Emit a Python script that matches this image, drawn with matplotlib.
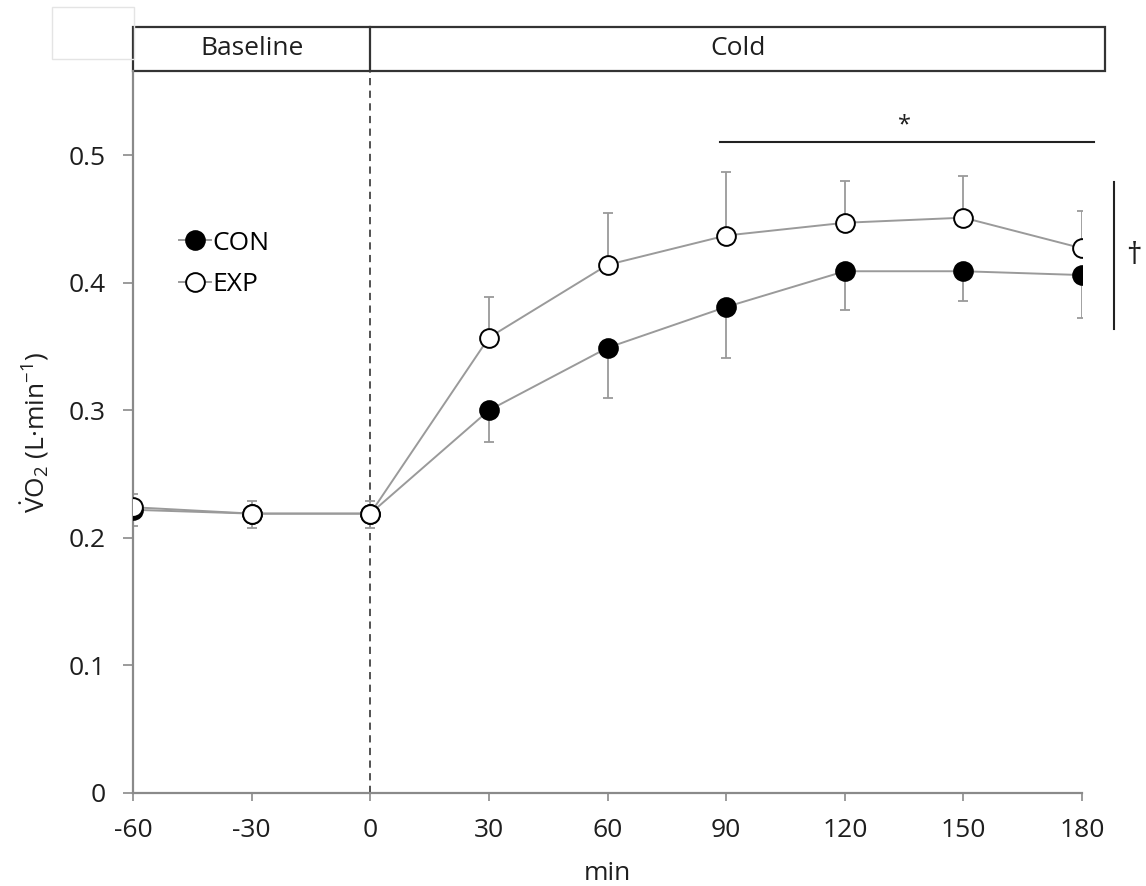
import numpy as np
import matplotlib.pyplot as plt
from matplotlib.patches import Rectangle

# time points (min) and VO2 means / SDs
minutes = [-60, -30, 0, 30, 60, 90, 120, 150, 180]
con_mean = [0.222, 0.219, 0.219, 0.300, 0.349, 0.381, 0.409, 0.409, 0.406]
con_sd = [0.013, 0.011, 0.011, 0.025, 0.039, 0.040, 0.030, 0.023, 0.034]
exp_mean = [0.224, 0.219, 0.219, 0.357, 0.414, 0.437, 0.447, 0.451, 0.427]
exp_sd = [0.010, 0.010, 0.010, 0.032, 0.041, 0.050, 0.033, 0.033, 0.029]

xticks = [-60, -30, 0, 30, 60, 90, 120, 150, 180]
yticks = [0, 0.1, 0.2, 0.3, 0.4, 0.5]
ytick_labels = ['0', '0.1', '0.2', '0.3', '0.4', '0.5']

plt.rcParams['font.family'] = ['Open Sans', 'DejaVu Sans']
plt.rcParams['mathtext.fontset'] = 'custom'
plt.rcParams['mathtext.rm'] = 'Open Sans'
plt.rcParams['mathtext.it'] = 'Open Sans:italic'

axis_grey = '#8a8a8a'
line_grey = '#9a9a9a'
text_col = '#1e1e1e'
fs = 19

fig = plt.figure(figsize=(11.46, 8.86), dpi=100)
ax = fig.add_axes([0.1161, 0.1050, 0.8281, 0.8149])

# error bars: CON downwards, EXP upwards
ax.errorbar(minutes, con_mean, yerr=[con_sd, np.zeros(len(con_sd))], fmt='none',
            ecolor=line_grey, elinewidth=1.3, capsize=3.5, capthick=1.3, zorder=2)
ax.errorbar(minutes, exp_mean, yerr=[np.zeros(len(exp_sd)), exp_sd], fmt='none',
            ecolor=line_grey, elinewidth=1.3, capsize=3.5, capthick=1.3, zorder=2)

ax.plot(minutes, con_mean, '-o', color=line_grey, lw=1.4, ms=13.5,
        mfc='black', mec='black', mew=1.4, label='CON', zorder=3)
ax.plot(minutes, exp_mean, '-o', color=line_grey, lw=1.4, ms=13.5,
        mfc='white', mec='black', mew=1.4, label='EXP', zorder=4)

ax.set_xlim(-60, 180)
ax.set_ylim(0, 0.566)
ax.set_xticks(xticks)
ax.set_xticklabels([str(t) for t in xticks])
ax.set_yticks(yticks)
ax.set_yticklabels(ytick_labels)

for side in ['top', 'right']:
    ax.spines[side].set_visible(False)
for side in ['left', 'bottom']:
    ax.spines[side].set_color(axis_grey)
    ax.spines[side].set_linewidth(1.6)
ax.tick_params(axis='y', direction='out', length=7, width=1.2, color=axis_grey,
               pad=13, labelsize=fs, labelcolor=text_col)
ax.tick_params(axis='x', direction='out', length=6, width=1.2, color=axis_grey,
               pad=12, labelsize=fs, labelcolor=text_col)

ax.set_xlabel('min', fontsize=fs, color=text_col, labelpad=13)
ax.set_ylabel(r'$\dot{\mathrm{V}}\mathrm{O}_2$ (L·min$^{-1}$)', fontsize=fs,
              color=text_col, labelpad=12)

# dashed line at start of cold exposure
ax.axvline(0, color='#444444', lw=1.3, ls=(0, (4, 3)), zorder=1)

# header box: Baseline | Cold
ax.add_patch(Rectangle((0, 1.0), 1.0243, 0.061, transform=ax.transAxes,
                       fill=False, ec='#333333', lw=1.6, clip_on=False))
ax.plot([0, 0], [1.0, 1.061], transform=ax.get_xaxis_transform(),
        color='#333333', lw=1.6, clip_on=False)
ax.text(-30, 1.031, 'Baseline', transform=ax.get_xaxis_transform(),
        ha='center', va='center', fontsize=fs, color=text_col)
ax.text(93, 1.031, 'Cold', transform=ax.get_xaxis_transform(),
        ha='center', va='center', fontsize=fs, color=text_col)

# significance markers
ax.plot([88.5, 183], [0.510, 0.510], color='#222222', lw=1.5, clip_on=False)
ax.text(135, 0.514, '*', ha='center', va='bottom', fontsize=17, color=text_col)
ax.plot([188, 188], [0.364, 0.479], color='#222222', lw=1.5, clip_on=False)
ax.text(193, 0.421, '†', ha='center', va='center', fontsize=22, color=text_col,
        clip_on=False)

ax.legend(loc='upper left', bbox_to_anchor=(0.035, 0.797), frameon=False,
          fontsize=fs, handlelength=1.2, handletextpad=0.05, labelspacing=0.62,
          borderpad=0)

# faint empty box in the top-left corner
fig.patches.append(Rectangle((52 / 1146, 1 - 59 / 886), 82 / 1146, 52 / 886,
                             transform=fig.transFigure, fill=False,
                             ec='#e4e4e4', lw=1.0))

fig.savefig('out.png', dpi=100)
